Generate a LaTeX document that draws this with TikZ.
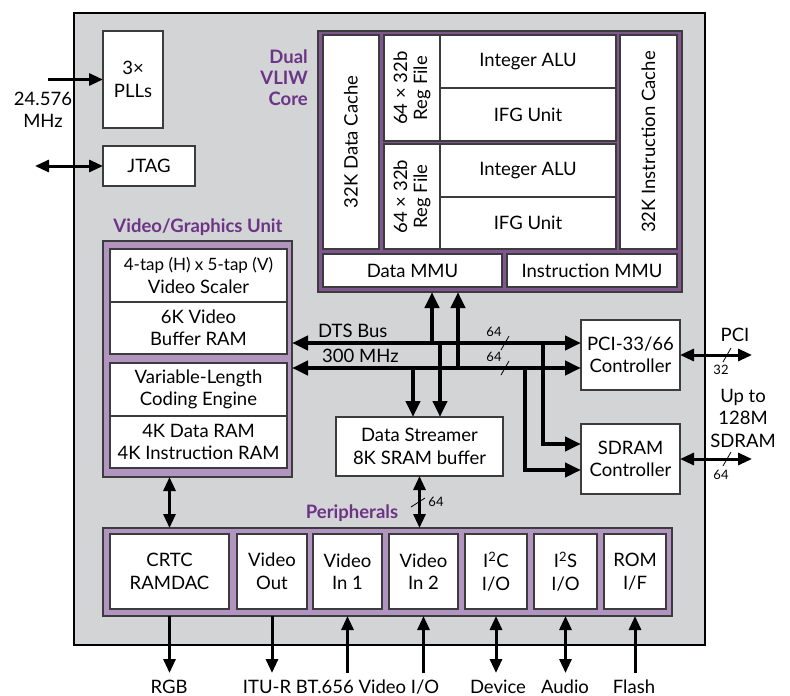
\documentclass[tikz,border=0pt]{standalone}
\usepackage{fontspec}
\setmainfont{Lato}
\usetikzlibrary{arrows.meta}
\definecolor{chipgray}{RGB}{211,212,214}
\definecolor{corepurple}{RGB}{128,86,142}
\definecolor{lightpurple}{RGB}{178,148,192}
\definecolor{labelpurple}{RGB}{108,52,134}
\definecolor{boxline}{RGB}{60,60,60}
\tikzset{
  box/.style={draw=boxline, line width=1.1pt, fill=white, inner sep=0pt, outer sep=0pt, align=center, font=\fontsize{18.5}{22.5}\selectfont},
  frameD/.style={draw=boxline, line width=1.1pt, fill=corepurple, inner sep=0pt, outer sep=0pt},
  frameL/.style={draw=boxline, line width=1.1pt, fill=lightpurple, inner sep=0pt, outer sep=0pt},
  chipbox/.style={draw=black, line width=2.5pt, fill=chipgray, inner sep=0pt, outer sep=0pt},
  lbl/.style={text=labelpurple, font=\bfseries\fontsize{18.5}{21}\selectfont, inner sep=0pt},
  txt/.style={font=\fontsize{18.5}{22.5}\selectfont, inner sep=0pt, align=center},
  small/.style={font=\fontsize{13}{15}\selectfont, inner sep=0pt},
  bus/.style={line width=4pt, {Triangle[length=16pt,width=14pt]}-{Triangle[length=16pt,width=14pt]}},
  busarr/.style={line width=4pt, -{Triangle[length=16pt,width=14pt]}},
  arr/.style={line width=3pt, -{Triangle[length=14pt,width=12pt]}},
  dbl/.style={line width=3pt, {Triangle[length=14pt,width=12pt]}-{Triangle[length=14pt,width=12pt]}},
  slash/.style={line width=0.8pt},
}
\newcommand\bx[7][box]{\node[#1,minimum width={(#5-#3)*1pt},minimum height={(#6-#4)*1pt}] (#2) at ({(#3+#5)/2},{(#4+#6)/2}) {#7};}
\begin{document}
\begin{tikzpicture}[x=1pt,y=-1pt]
\useasboundingbox (0,0) rectangle (790,696);
% chip
\bx[chipbox]{chip}{74}{13}{705}{645}{}
% PLL and JTAG
\bx{pll}{103}{31}{163}{128}{3×\\PLLs}
\bx{jtag}{103}{146}{195}{186}{JTAG}
\coordinate (pllin) at (48,79.5);
\draw[arr] (pllin) -- (pll.west);
\node[txt] at (43,110) {24.576\\MHz};
\coordinate (jtagout) at (35,166);
\draw[dbl] (jtagout) -- (jtag.west);
% core
\node[lbl, anchor=east, align=right] at (308,78) {Dual\\VLIW\\Core};
\bx[frameD]{core}{318}{31}{682}{292}{}
\bx{dcache}{323}{35}{379}{249}{}
\node[txt, rotate=90] at (dcache) {32K Data Cache};
\bx{reg1}{384}{35}{440}{141}{}
\node[txt, rotate=90, font=\fontsize{18.5}{20}\selectfont] at (reg1) {64 × 32b\\Reg File};
\bx{alu1}{440}{35}{616}{88}{Integer ALU}
\bx{ifg1}{440}{88}{616}{141}{IFG Unit}
\bx{reg2}{384}{144}{440}{249}{}
\node[txt, rotate=90, font=\fontsize{18.5}{20}\selectfont] at (reg2) {64 × 32b\\Reg File};
\bx{alu2}{440}{144}{616}{197}{Integer ALU}
\bx{ifg2}{440}{197}{616}{249}{IFG Unit}
\bx{icache}{620}{35}{677}{249}{}
\node[txt, rotate=90] at (icache) {32K Instruction Cache};
\bx{dmmu}{323}{254}{502}{287}{Data MMU}
\bx{immu}{507}{254}{677}{287}{Instruction MMU}
% video graphics unit
\node[lbl] at (198,227) {Video/Graphics Unit};
\bx[frameL]{vgu}{103}{241}{292}{477}{}
\bx{vs}{110}{249}{287}{302}{{\fontsize{17}{22.5}\selectfont 4-tap (H) x 5-tap (V)}\\Video Scaler}
\bx{vb}{110}{302}{287}{354}{6K Video\\Buffer RAM}
\bx{vlc}{110}{363}{287}{416}{Variable-Length\\Coding Engine}
\bx{vram}{110}{416}{287}{468}{4K Data RAM\\4K Instruction RAM}
% data streamer, controllers
\bx{ds}{336}{417}{503}{476}{Data Streamer\\8K SRAM buffer}
\bx{pci}{581}{320}{680}{390}{PCI-33/66\\Controller}
\bx{sdram}{581}{424}{680}{494}{SDRAM\\Controller}
% peripherals
\node[lbl] at (352,513) {Peripherals};
\bx[frameL]{perif}{103}{528}{672}{616}{}
\bx{crtc}{110}{534}{229}{609}{CRTC\\RAMDAC}
\bx{vout}{237}{534}{307}{609}{Video\\Out}
\bx{vin1}{313}{534}{382}{609}{Video\\In 1}
\bx{vin2}{389}{534}{458}{609}{Video\\In 2}
\bx{i2c}{465}{534}{527}{609}{I\textsuperscript{2}C\\I/O}
\bx{i2s}{534}{534}{597}{609}{I\textsuperscript{2}S\\I/O}
\bx{rom}{604}{534}{666}{609}{ROM\\I/F}
% DTS bus
\coordinate (yA) at (0,343);
\coordinate (yB) at (0,368);
\draw[bus] (vgu.east |- yA) -- (pci.west |- yA);
\draw[bus] (vgu.east |- yB) -- (pci.west |- yB);
\node[txt, anchor=west] at (318,331) {DTS Bus};
\node[txt, anchor=west] at (322,356) {300 MHz};
\coordinate (v1) at (432,343);
\coordinate (v2) at (458,368);
\coordinate (v3) at (440,343);
\coordinate (v4) at (413,368);
\draw[busarr] (v1) -- (v1 |- core.south);
\draw[busarr] (v2) -- (v2 |- core.south);
\draw[busarr] (v3) -- (v3 |- ds.north);
\draw[busarr] (v4) -- (v4 |- ds.north);
\coordinate (b1) at (543,343);
\coordinate (t1) at (0,444);
\coordinate (b2) at (525,368);
\coordinate (t2) at (0,470);
\draw[busarr] (b1) |- (sdram.west |- t1);
\draw[busarr] (b2) |- (sdram.west |- t2);
\draw[slash] (501,350) -- (509,336);
\draw[slash] (501,375) -- (509,361);
\node[small] at (494,332) {64};
\node[small] at (494,357) {64};
% data streamer to peripherals
\draw[dbl] (ds.south) -- (ds.south |- perif.north);
\draw[slash] (411,507) -- (425,498);
\node[small] at (436,502) {64};
% video unit to CRTC
\draw[dbl] (crtc.north |- vgu.south) -- (crtc.north |- perif.north);
% right side
\coordinate (pciout) at (752,355);
\coordinate (sdout) at (752,459);
\draw[dbl] (pci.east) -- (pciout);
\draw[dbl] (sdram.east) -- (sdout);
\draw[slash] (723,362) -- (731,348);
\draw[slash] (723,466) -- (731,452);
\node[txt] at (735,335) {PCI};
\node[small] at (721,370) {32};
\node[small] at (721,475) {64};
\node[txt] at (743,418) {Up to\\128M\\SDRAM};
% bottom I/O
\coordinate (ybot) at (0,673);
\draw[arr] (crtc.south |- perif.south) -- (crtc.south |- ybot);
\draw[arr] (vout.south |- perif.south) -- (vout.south |- ybot);
\draw[arr] (vin1.south |- ybot) -- (vin1.south |- perif.south);
\draw[arr] (vin2.south |- ybot) -- (vin2.south |- perif.south);
\draw[dbl] (i2c.south |- ybot) -- (i2c.south |- perif.south);
\draw[dbl] (i2s.south |- ybot) -- (i2s.south |- perif.south);
\draw[arr] (rom.south |- ybot) -- (rom.south |- perif.south);
\node[txt, anchor=base] at (169,693) {RGB};
\node[txt, anchor=base] at (341,693) {ITU-R BT.656 Video I/O};
\node[txt, anchor=base] at (498,693) {Device};
\node[txt, anchor=base] at (565,693) {Audio};
\node[txt, anchor=base] at (634,693) {Flash};
\end{tikzpicture}
\end{document}
